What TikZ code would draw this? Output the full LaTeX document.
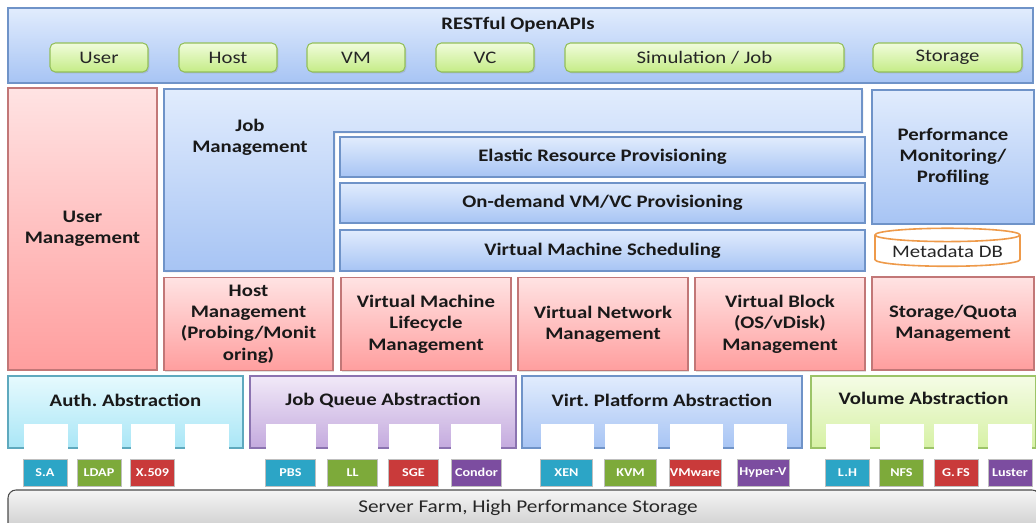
\documentclass[tikz,border=0pt]{standalone}
\usepackage{fontspec}
\setmainfont{Carlito}[FakeStretch=1.18]
\usetikzlibrary{shapes.geometric,shadows}
\frenchspacing

\definecolor{bluetop}{HTML}{E1ECFD}\definecolor{bluebot}{HTML}{A7C4F4}\definecolor{blueline}{HTML}{6F93C8}
\definecolor{redtop}{HTML}{FFE3E3}\definecolor{redbot}{HTML}{FF9E9E}\definecolor{redline}{HTML}{C27777}
\definecolor{greentop}{HTML}{F0FCDC}\definecolor{greenbot}{HTML}{C5EC86}\definecolor{greenline}{HTML}{93BF5A}
\definecolor{cyantop}{HTML}{E6FAFE}\definecolor{cyanbot}{HTML}{A9E6F6}\definecolor{cyanline}{HTML}{5EA9BE}
\definecolor{purptop}{HTML}{F1E9F8}\definecolor{purpbot}{HTML}{C4AADE}\definecolor{purpline}{HTML}{8B73B0}
\definecolor{voltop}{HTML}{F5FCE6}\definecolor{volbot}{HTML}{D6F1A4}\definecolor{volline}{HTML}{9CC468}
\definecolor{tagcyan}{HTML}{2CA5C6}\definecolor{taggreen}{HTML}{7DAA3A}
\definecolor{tagred}{HTML}{C93A3A}\definecolor{tagpurple}{HTML}{7C4DA0}
\definecolor{dborange}{HTML}{EE9A4A}

\begin{document}
\frenchspacing
\begin{tikzpicture}[x=0.75pt,y=-0.75pt,
  wh/.style 2 args={minimum width=#1*0.75pt,minimum height=#2*0.75pt,inner sep=0pt},
  box/.style={draw,line width=0.8pt,drop shadow={opacity=0.25,shadow xshift=1pt,shadow yshift=-1pt}},
  bluebox/.style={box,draw=blueline,top color=bluetop,bottom color=bluebot},
  redbox/.style={box,draw=redline,top color=redtop,bottom color=redbot},
  apibtn/.style={box,draw=greenline,top color=greentop,bottom color=greenbot,rounded corners=4pt},
  label/.style={font=\fontsize{13.2}{16}\selectfont\bfseries,text=black!90,align=center},
  plain/.style={font=\fontsize{13.2}{15}\selectfont,text=black!85},
  slot/.style={fill=white,wh={#1}{25}},
  tag/.style={draw=black!25,fill=#1,text=white,font=\fontsize{9}{10}\selectfont\bfseries,wh={44}{27}}]
\useasboundingbox (0,0) rectangle (1036,523);

% RESTful OpenAPIs
\node[bluebox,wh={1025}{75}] (api) at (520.5,45.5) {};
\node[label] (apititle) at (518,25) {RESTful OpenAPIs};
\node[apibtn,wh={98}{29},plain] (user) at (99,57.5) {User};
\node[apibtn,wh={98}{29},plain] (host) at (228,57.5) {Host};
\node[apibtn,wh={98}{29},plain] (vm) at (356,57.5) {VM};
\node[apibtn,wh={98}{29},plain] (vc) at (485,57.5) {VC};
\node[apibtn,wh={279}{29},plain] (simjob) at (704.5,57.5) {Simulation / Job};
\node[apibtn,wh={149}{29},plain] (storage) at (947.5,57.5) {Storage};

% management layer
\node[redbox,wh={149}{282},label] (usermgmt) at (82.5,229) {User\\Management};
\shade[box,draw=blueline,top color=bluetop,bottom color=bluebot]
  (164,89) -- (862,89) -- (862,132) -- (334,132) -- (334,271) -- (164,271) -- cycle;
\node[label] (jobmgmt) at (250,137) {Job\\Management};
\node[bluebox,wh={525}{40},label] (elastic) at (602.5,157) {Elastic Resource Provisioning};
\node[bluebox,wh={525}{40},label] (ondemand) at (602.5,203) {On-demand VM/VC Provisioning};
\node[bluebox,wh={525}{41},label] (vmsched) at (602.5,250.5) {Virtual Machine Scheduling};
\node[bluebox,wh={162}{134},label] (perf) at (953,157) {Performance\\Monitoring/\\Profiling};
\node[cylinder,shape border rotate=90,aspect=0.12,draw=dborange,line width=1.2pt,fill=white,
  wh={145}{38},plain] (metadb) at (947.5,251) {Metadata DB};
\node[redbox,wh={162}{93},label] (quota) at (953,323.5) {Storage/Quota\\Management};
\node[redbox,wh={169}{93},label] (hostmgmt) at (248.5,324) {Host\\Management\\(Probing/Monit\\oring)};
\node[redbox,wh={170}{93},label] (vmlife) at (426,324) {Virtual Machine\\Lifecycle\\Management};
\node[redbox,wh={170}{93},label] (vnet) at (603,324) {Virtual Network\\Management};
\node[redbox,wh={170}{93},label] (vblock) at (780,324) {Virtual Block\\(OS/vDisk)\\Management};

% abstraction layer
\node[box,draw=cyanline,top color=cyantop,bottom color=cyanbot,wh={235}{72}] (auth) at (125.5,412) {};
\node[box,draw=purpline,top color=purptop,bottom color=purpbot,wh={266}{72}] (jobq) at (383,412) {};
\node[bluebox,wh={280}{72}] (virt) at (662,412) {};
\node[box,draw=volline,top color=voltop,bottom color=volbot,wh={225}{72}] (volume) at (923.5,412) {};
\node[label] at (125.5,400) {Auth. Abstraction};
\node[label] at (383,400) {Job Queue Abstraction};
\node[label] at (662,400) {Virt. Platform Abstraction};
\node[label] at (923.5,398) {Volume Abstraction};

\foreach \x in {45.5,99.5,153,207} \node[slot=44] at (\x,436.5) {};
\foreach \x in {291,353,414,475.5} \node[slot=50] at (\x,436.5) {};
\foreach \x in {567.5,631,696,760.5} \node[slot=53] at (\x,436.5) {};
\foreach \x in {848,902,956,1010} \node[slot=44] at (\x,436.5) {};

% implementations
\node[tag=tagcyan] (sa) at (45,472.5) {S.A};
\node[tag=taggreen] (ldap) at (99,472.5) {LDAP};
\node[tag=tagred] (x509) at (152.5,472.5) {X.509};
\node[tag=tagcyan,wh={50}{27}] (pbs) at (290.5,472.5) {PBS};
\node[tag=taggreen,wh={50}{27}] (ll) at (352.5,472.5) {LL};
\node[tag=tagred,wh={50}{27}] (sge) at (413.5,472.5) {SGE};
\node[tag=tagpurple,wh={50}{27}] (condor) at (476.5,472.5) {Condor};
\node[tag=tagcyan,wh={52}{27}] (xen) at (566.5,472.5) {XEN};
\node[tag=taggreen,wh={52}{27}] (kvm) at (630.5,472.5) {KVM};
\node[tag=tagred,wh={52}{27}] (vmware) at (695,472.5) {VMware};
\node[tag=tagpurple,wh={52}{27}] (hyperv) at (763,472.5) {Hyper-V};
\node[tag=tagcyan] (lh) at (847.5,472.5) {L.H};
\node[tag=taggreen] (nfs) at (901.5,472.5) {NFS};
\node[tag=tagred] (gfs) at (956,472.5) {G.\,FS};
\node[tag=tagpurple] (luster) at (1010,472.5) {Luster};

% server farm
\node[draw=black!70,line width=0.8pt,rounded corners=6pt,top color=white!96!black,bottom color=black!22,
  wh={1032}{46}] (farm) at (524,513) {};
\node[plain,font=\fontsize{13.5}{15}\selectfont] (farmtext) at (528,508) {Server Farm, High Performance Storage};
\end{tikzpicture}
\end{document}
